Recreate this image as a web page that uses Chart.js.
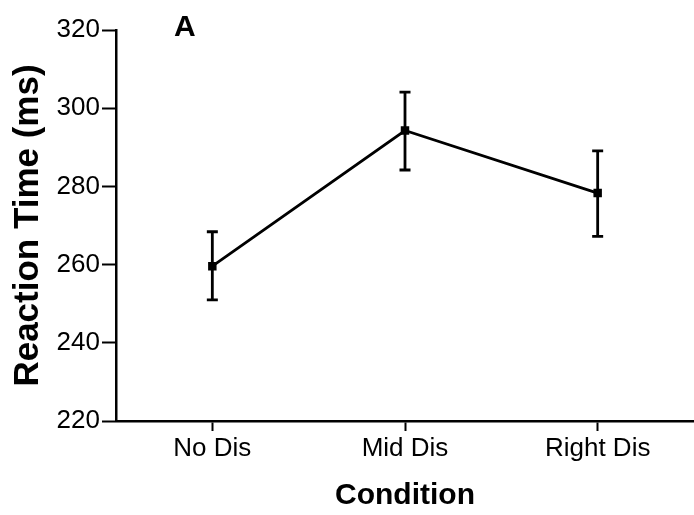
<!DOCTYPE html>
<html lang="en">
<head>
    <meta charset="UTF-8">
    <title>Reaction Time by Condition</title>
    <script src="https://cdn.jsdelivr.net/npm/chart.js"></script>
    <style>
        body {
            margin: 0;
            padding: 0;
            background-color: white;
        }

        #chart {
            display: block;
        }
    </style>
</head>
<body>

    <canvas id="chart" width="694" height="515"></canvas>

    <script>
        // Data
        const conditions = ['No Dis', 'Mid Dis', 'Right Dis'];
        const meanRT = [259.6, 294.3, 278.3];
        const errUpper = [268.4, 304.1, 289.1];
        const errLower = [251.0, 284.2, 267.2];
        const yTicks = [220, 240, 260, 280, 300, 320];
        const panelLabel = 'A';

        const fontFamily = '"Liberation Sans", Arial, sans-serif';

        // Error bars with caps, drawn through the chart scales
        const errorBars = {
            id: 'errorBars',
            afterDatasetsDraw(chart) {
                const ctx = chart.ctx;
                const x = chart.scales.x;
                const y = chart.scales.y;
                ctx.save();
                ctx.strokeStyle = '#000';
                ctx.lineWidth = 2.8;
                conditions.forEach((c, i) => {
                    const px = x.getPixelForValue(i);
                    const top = y.getPixelForValue(errUpper[i]);
                    const bot = y.getPixelForValue(errLower[i]);
                    ctx.beginPath();
                    ctx.moveTo(px, top);
                    ctx.lineTo(px, bot);
                    ctx.moveTo(px - 5.5, top);
                    ctx.lineTo(px + 5.5, top);
                    ctx.moveTo(px - 5.5, bot);
                    ctx.lineTo(px + 5.5, bot);
                    ctx.stroke();
                });
                ctx.restore();
            }
        };

        // Panel letter in the top left of the plot
        const panelText = {
            id: 'panelText',
            afterDraw(chart) {
                const ctx = chart.ctx;
                ctx.save();
                ctx.fillStyle = '#000';
                ctx.font = 'bold 30px ' + fontFamily;
                ctx.textBaseline = 'alphabetic';
                ctx.fillText(panelLabel, 174, 36);
                ctx.restore();
            }
        };

        const ctx = document.getElementById('chart').getContext('2d');
        const chart = new Chart(ctx, {
            type: 'line',
            data: {
                labels: conditions,
                datasets: [{
                    data: meanRT,
                    borderColor: '#000',
                    backgroundColor: '#000',
                    borderWidth: 2.8,
                    pointStyle: 'rect',
                    pointRadius: 4,
                    pointHoverRadius: 4,
                    tension: 0,
                    fill: false
                }]
            },
            options: {
                responsive: false,
                animation: false,
                layout: {
                    autoPadding: false,
                    padding: { top: 30, right: 0, bottom: 0, left: 0 }
                },
                plugins: {
                    legend: { display: false },
                    tooltip: { enabled: false }
                },
                scales: {
                    x: {
                        offset: true,
                        grid: {
                            offset: false,
                            drawOnChartArea: false,
                            drawTicks: true,
                            tickLength: 10,
                            tickWidth: 2,
                            tickColor: '#000'
                        },
                        border: { display: true, color: '#000', width: 2.5 },
                        ticks: {
                            color: '#000',
                            padding: 2,
                            font: { family: fontFamily, size: 26 }
                        },
                        title: {
                            display: true,
                            text: 'Condition',
                            color: '#000',
                            padding: { top: 0, bottom: 4 },
                            font: { family: fontFamily, size: 30, weight: 'bold', lineHeight: 1 }
                        },
                        afterFit(scale) { scale.height = 94; }
                    },
                    y: {
                        min: yTicks[0],
                        max: yTicks[yTicks.length - 1],
                        afterBuildTicks(scale) {
                            scale.ticks = yTicks.map(v => ({ value: v }));
                        },
                        grid: {
                            drawOnChartArea: false,
                            drawTicks: true,
                            tickLength: 14,
                            tickWidth: 2,
                            tickColor: '#000'
                        },
                        border: { display: true, color: '#000', width: 2.5 },
                        ticks: {
                            color: '#000',
                            padding: 2,
                            font: { family: fontFamily, size: 26 }
                        },
                        title: {
                            display: true,
                            text: 'Reaction Time (ms)',
                            color: '#000',
                            padding: { top: 11, bottom: 0 },
                            font: { family: fontFamily, size: 35, weight: 'bold', lineHeight: 1 }
                        },
                        afterFit(scale) { scale.width = 116; }
                    }
                }
            },
            plugins: [errorBars, panelText]
        });
    </script>

</body>
</html>
